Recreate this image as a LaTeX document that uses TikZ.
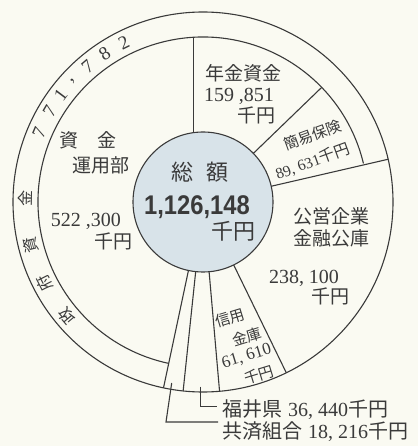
\documentclass[tikz,border=0pt]{standalone}
\usepackage{fontspec}
\setmainfont{Liberation Serif}
\newfontfamily\jp{Noto Sans CJK JP}
\newfontfamily\bsans{Liberation Sans}
\definecolor{bg}{HTML}{FAFAF2}
\definecolor{ink}{HTML}{3A3A3A}
\definecolor{centerfill}{HTML}{D8E3E9}
\newcommand{\fs}[1]{\fontsize{#1}{#1}\selectfont}
\tikzset{
  ln/.style={draw=ink, line width=1.1pt},
  lbl/.style={text=ink, inner sep=0pt, align=center},
  big/.style={lbl, font=\fs{20}},
  mid/.style={lbl, font=\fs{16}},
  small/.style={lbl, font=\fs{15}},
  ringch/.style={lbl, font=\jp\fs{16}},
  ringdg/.style={lbl, font=\fs{19}},
}
\begin{document}
\begin{tikzpicture}[x=1pt,y=1pt]
\useasboundingbox[fill=bg] (-203,-244) rectangle (215,202);
% circles
\node[circle, ln, minimum size=380pt, inner sep=0pt, outer sep=0pt] (outer) at (0,0) {};
\node[circle, ln, fill=centerfill, minimum size=140pt, inner sep=0pt, outer sep=0pt] (tot) at (0,0) {};
\coordinate (ringA) at (13.5:165);
\coordinate (ringB) at (258:165);
\draw[ln] (ringA) arc[start angle=13.5, end angle=258, radius=165];
% dividers
\coordinate (vtop) at (-9.5,164.7);
\coordinate (vbot) at (-9.5,69.35);
\draw[ln] (vbot) -- (vtop);
\draw[ln] (tot.44) -- (44:165);
\draw[ln] (tot.13.5) -- (outer.13.5);
\draw[ln] (tot.-64.5) -- (outer.-64.5);
\draw[ln] (tot.-85) -- (outer.-85);
\draw[ln] (tot.-96.5) -- (outer.-96.5);
\draw[ln] (tot.-102) -- (outer.-102);
% leaders
\coordinate (l1a) at (-2.3,-184.7);
\coordinate (l1b) at (-2.3,-204.7);
\coordinate (l1c) at (14,-204.7);
\coordinate (l2a) at (-31.3,-181);
\coordinate (l2b) at (-37,-220);
\coordinate (l2c) at (15,-220);
\draw[ln] (l1a) -- (l1b) -- (l1c);
\draw[ln] (l2a) -- (l2b) -- (l2c);
% center
\node[lbl, font=\jp\fs{22}] (sogaku) at (-3,30) {総\hspace{14pt}額};
\node[lbl, font=\bsans\bfseries\fs{27}, xscale=0.88] (total) at (-6,-5) {1,126,148};
\node[lbl, font=\jp\fs{22}] (totu) at (30,-29) {千円};
% shikin unyobu
\node[big, font=\jp\fs{19}] (s1) at (-115,62) {資　金};
\node[big, font=\jp\fs{19}] (s2) at (-102,37) {運用部};
\node[big] (s3) at (-117,-19) {522 ,300};
\node[big, font=\jp\fs{19}] (s4) at (-89,-39) {千円};
% nenkin
\node[big, font=\jp\fs{19}] (n1) at (40,129) {年金資金};
\node[big] (n2) at (36,106) {159 ,851};
\node[big, font=\jp\fs{19}] (n3) at (53,87) {千円};
% kan-i hoken
\node[mid, font=\jp\fs{15}, rotate=20] (k1) at (109.5,67) {簡易保険};
\node[mid, font=\fs{15.5}, rotate=20] (k2) at (109.5,40.5) {89, 631{\jp 千円}};
% koei
\node[big, font=\jp\fs{19}] (p1) at (128,-14) {公営企業};
\node[big, font=\jp\fs{19}] (p2) at (128,-36) {金融公庫};
\node[big] (p3) at (101,-76) {238, 100};
\node[big, font=\jp\fs{19}] (p4) at (127,-94) {千円};
% shinyo kinko
\node[small, font=\jp\fs{15}, rotate=17] (c1) at (27,-116) {信用};
\node[small, font=\jp\fs{15}, rotate=17] (c2) at (43.7,-134.7) {金庫};
\node[small, font=\fs{17}, rotate=17] (c3) at (43.7,-154.7) {61, 610};
\node[small, font=\jp\fs{15}, rotate=17] (c4) at (56,-173) {千円};
% bottom labels
\node[big, anchor=west] (f1) at (19,-208) {{\jp 福井県}\hspace{6pt}36, 440{\jp 千円}};
\node[big, anchor=west] (f2) at (19,-230) {{\jp 共済組合}\hspace{6pt}18, 216{\jp 千円}};
% ring text
\foreach \a/\c in {220/政,207/府,194/資,179/金}
  \node[ringch, rotate=\a-90] at (\a:178) {\c};
\foreach \a/\c in {157/7,149.5/7,143/1,137/{,},130.4/7,123.5/8,116.4/2}
  \node[ringdg, rotate=\a-90] at (\a:178) {\c};
\end{tikzpicture}
\end{document}
